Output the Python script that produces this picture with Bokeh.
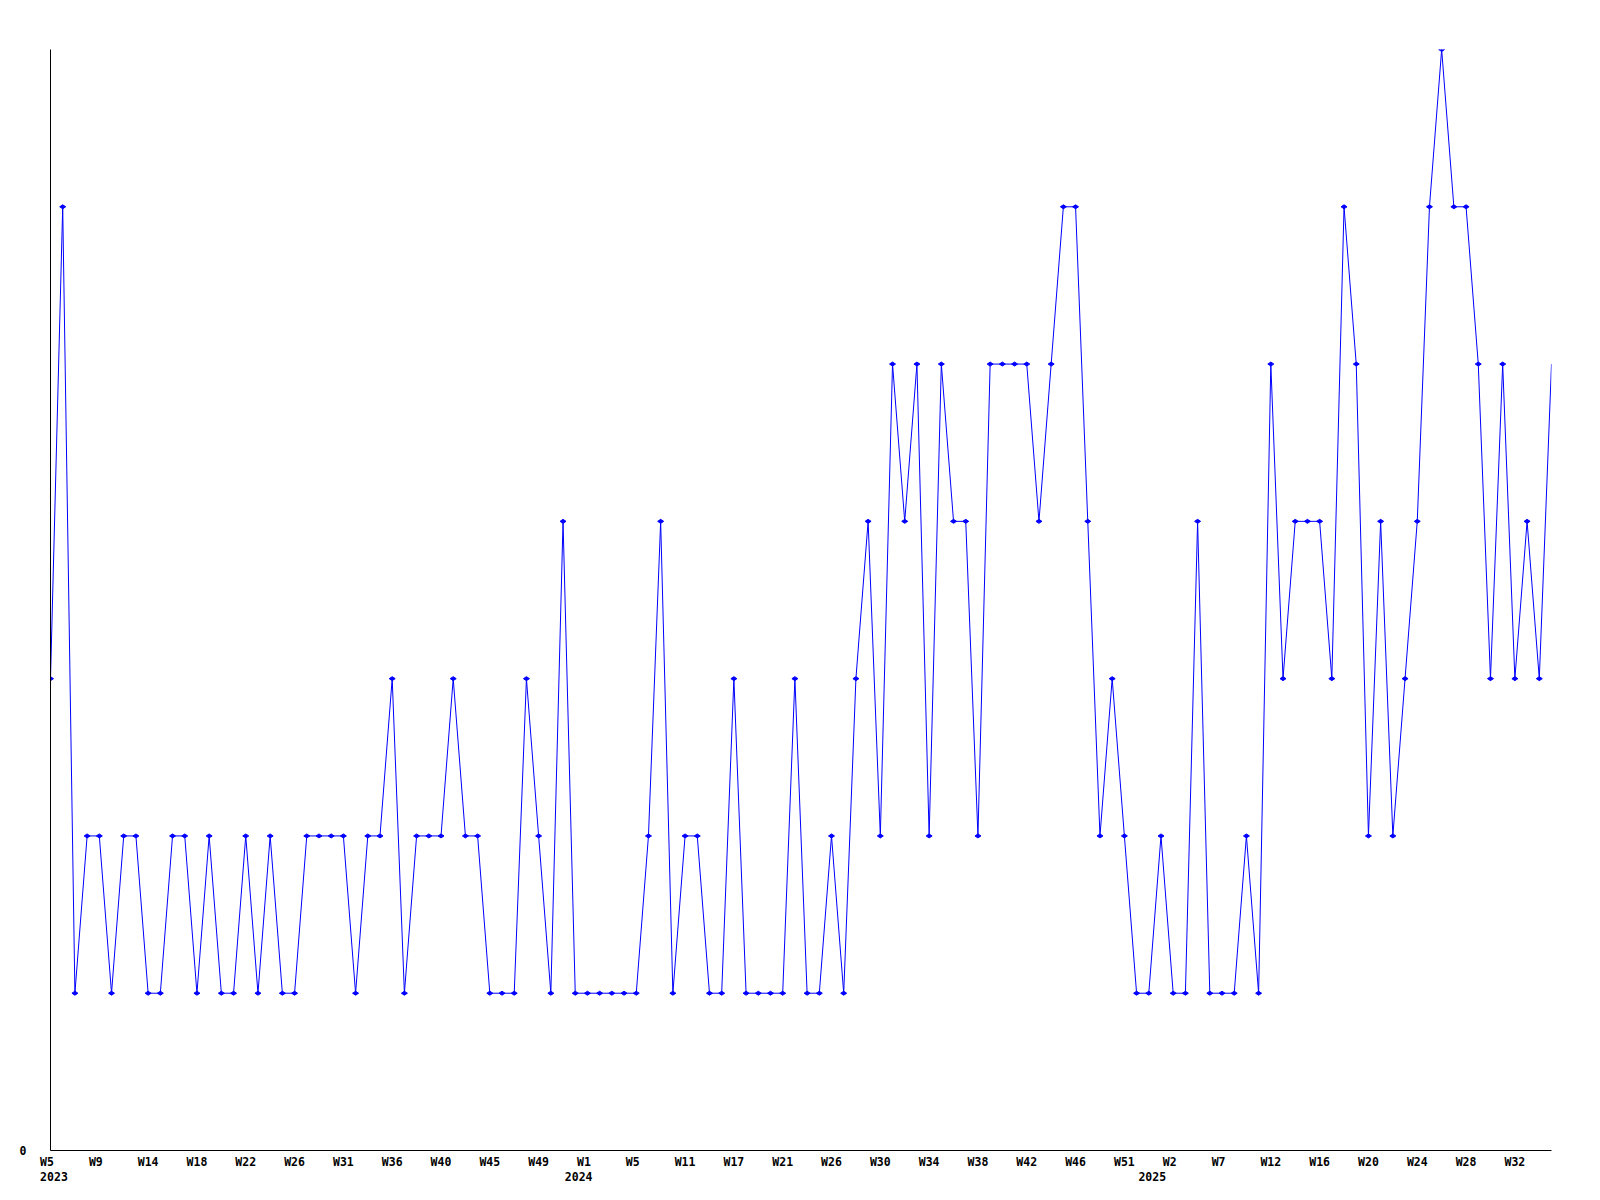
import math
from bokeh.plotting import figure
from bokeh.models import ColumnDataSource, FixedTicker, Range1d, LinearAxis
from bokeh.embed import file_html
from bokeh.resources import INLINE

# Weekly values (124 samples)
values = [
    3, 6, 1, 2, 2, 1, 2, 2, 1, 1,
    2, 2, 1, 2, 1, 1, 2, 1, 2, 1,
    1, 2, 2, 2, 2, 1, 2, 2, 3, 1,
    2, 2, 2, 3, 2, 2, 1, 1, 1, 3,
    2, 1, 4, 1, 1, 1, 1, 1, 1, 2,
    4, 1, 2, 2, 1, 1, 3, 1, 1, 1,
    1, 3, 1, 1, 2, 1, 3, 4, 2, 5,
    4, 5, 2, 5, 4, 4, 2, 5, 5, 5,
    5, 4, 5, 6, 6, 4, 2, 3, 2, 1,
    1, 2, 1, 1, 4, 1, 1, 1, 2, 1,
    5, 3, 4, 4, 4, 3, 6, 5, 2, 4,
    2, 3, 4, 6, 7, 6, 6, 5, 3, 5,
    3, 4, 3, 5,
]
index = list(range(len(values)))

# Week tick labels (every 4th sample)
week_tick_index = list(range(0, 121, 4))
week_labels = ["W5", "W9", "W14", "W18", "W22", "W26", "W31", "W36", "W40", "W45",
               "W49", "W1", "W5", "W11", "W17", "W21", "W26", "W30", "W34", "W38",
               "W42", "W46", "W51", "W2", "W7", "W12", "W16", "W20", "W24", "W28",
               "W32"]
# Year labels
year_index = [0, 43, 90]
year_labels = ["2023", "2024", "2025"]

NB = "\u00a0"
W, H = 1595, 1195
p = figure(width=W, height=H, output_backend="svg", toolbar_location=None,
           x_range=Range1d(0, len(values) - 1), y_range=Range1d(0, 7),
           min_border_left=50, min_border_right=W - 1551, min_border_top=49,
           min_border_bottom=H - 1150)
p.outline_line_color = None
p.xgrid.visible = False
p.ygrid.visible = False
p.background_fill_color = "white"
p.border_fill_color = "white"

FONT = "DejaVu Sans Mono"
FSIZE = "11.5px"

def style_axis(ax):
    ax.minor_tick_line_color = None
    ax.major_tick_line_color = None
    ax.major_tick_out = 0
    ax.major_tick_in = 0
    ax.major_label_text_font = FONT
    ax.major_label_text_font_size = FSIZE
    ax.major_label_text_font_style = "bold"
    ax.major_label_text_color = "black"

# week axis (the main x axis)
xa = p.xaxis[0]
style_axis(xa)
xa.ticker = FixedTicker(ticks=week_tick_index)
xa.major_label_overrides = {i: (t + NB if len(t) == 2 else t)
                            for i, t in zip(week_tick_index, week_labels)}
xa.major_label_standoff = 4
xa.axis_line_color = "black"

# year axis below it
ya2 = LinearAxis(ticker=FixedTicker(ticks=year_index),
                 major_label_overrides={i: NB + t for i, t in zip(year_index, year_labels)})
style_axis(ya2)
ya2.axis_line_color = None
ya2.major_label_standoff = -2
p.add_layout(ya2, "below")

# y axis with only 0
yax = p.yaxis[0]
style_axis(yax)
yax.ticker = FixedTicker(ticks=[0])
yax.major_label_standoff = 24
yax.axis_line_color = "black"

src = ColumnDataSource(dict(x=index, y=values))
p.line("x", "y", source=src, line_color="#0000ff", line_width=1)
msrc = ColumnDataSource(dict(x=index[:-1], y=values[:-1]))
p.scatter("x", "y", source=msrc, marker="diamond", size=6, angle=math.pi / 2,
          fill_color="#0000ff", line_color="#0000ff", line_width=1)

open("out.html", "w").write(file_html(p, INLINE))
